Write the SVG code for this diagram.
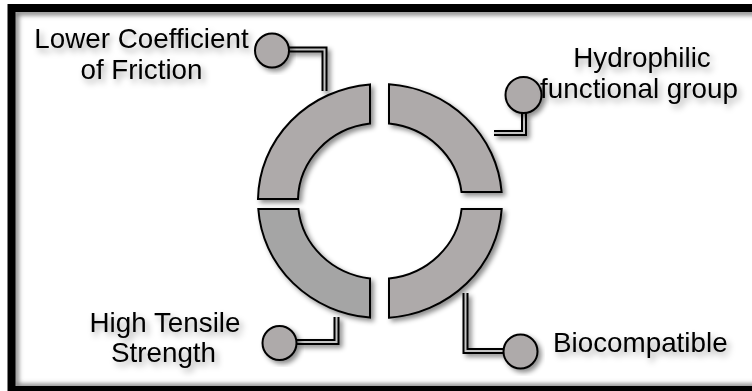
<svg xmlns="http://www.w3.org/2000/svg" width="752" height="391" viewBox="0 0 752 391">
<defs>
<filter id="sh" x="-20%" y="-20%" width="140%" height="140%">
<feDropShadow dx="3" dy="3" stdDeviation="2.5" flood-color="#000" flood-opacity="0.45"/>
</filter>
<filter id="tsh" x="-10%" y="-30%" width="120%" height="160%">
<feDropShadow dx="3" dy="4" stdDeviation="3" flood-color="#000" flood-opacity="0.35"/>
</filter>
<filter id="blur" x="-5%" y="-5%" width="110%" height="110%">
<feGaussianBlur stdDeviation="2.5"/>
</filter>
</defs>
<style>
.seg{fill:#aeaaaa;stroke:#000;stroke-width:2;stroke-linejoin:miter}
.segd{fill:#a5a5a5}
.bulb{fill:#aeaaaa;stroke:#000;stroke-width:2}
.po{fill:none;stroke:#000;stroke-width:6;stroke-linejoin:miter}
.pi{fill:none;stroke:#c4c4c4;stroke-width:2;stroke-linejoin:miter}
.lbl{font-family:"Liberation Sans",Arial,sans-serif;font-size:27.8px;fill:#000}
</style>
<rect x="0" y="0" width="752" height="391" fill="#fff"/>
<rect x="16" y="12.5" width="745" height="374" fill="none" stroke="#777" stroke-width="5" filter="url(#blur)"/>

<g id="ring" filter="url(#sh)">
<path id="seg-tl" class="seg" d="M258,199 A122,117 0 0 1 370,84.4 L370,123.6 A82,78 0 0 0 298,199 Z"/>
<path id="seg-tr" class="seg" d="M389,84.3 A122,117 0 0 1 501.6,192 L461.5,192 A82,78 0 0 0 389,123.5 Z"/>
<path id="seg-bl" class="seg segd" d="M258.3,209 A122,117 0 0 0 370,317.6 L370,278.4 A82,78 0 0 1 298.4,209 Z"/>
<path id="seg-br" class="seg" d="M501.7,209 A122,117 0 0 1 389,317.7 L389,278.5 A82,78 0 0 0 461.6,209 Z"/>
</g>

<g id="connectors" filter="url(#sh)">
<path class="po" d="M288,49.5 H324.5 V91"/>
<path class="pi" d="M288,49.5 H324.5 V91"/>
<path class="po" d="M524,113 V133 H494"/>
<path class="pi" d="M524,113 V133 H494"/>
<path class="po" d="M296,342 H336.5 V317"/>
<path class="pi" d="M296,342 H336.5 V317"/>
<path class="po" d="M504,351 H465.5 V293"/>
<path class="pi" d="M504,351 H465.5 V293"/>
</g>

<g id="node-friction">
<circle class="bulb" cx="272" cy="50.5" r="17" filter="url(#sh)"/>
<text class="lbl" filter="url(#tsh)" text-anchor="middle"><tspan x="141.5" y="47.5">Lower Coefficient</tspan><tspan x="141.5" y="79">of Friction</tspan></text>
</g>
<g id="node-hydrophilic">
<circle class="bulb" cx="523.5" cy="95" r="18" filter="url(#sh)"/>
<text class="lbl" filter="url(#tsh)" text-anchor="middle"><tspan x="642" y="67">Hydrophilic</tspan><tspan x="639" y="97.5">functional group</tspan></text>
</g>
<g id="node-tensile">
<circle class="bulb" cx="279.5" cy="343" r="17" filter="url(#sh)"/>
<text class="lbl" filter="url(#tsh)" text-anchor="middle"><tspan x="165" y="332">High Tensile</tspan><tspan x="163.5" y="362">Strength</tspan></text>
</g>
<g id="node-biocompatible">
<circle class="bulb" cx="520.5" cy="351.5" r="17" filter="url(#sh)"/>
<text class="lbl" filter="url(#tsh)" x="553" y="352">Biocompatible</text>
</g>

<rect id="frame" x="11.5" y="8" width="750" height="382" fill="none" stroke="#000" stroke-width="8"/>
</svg>
